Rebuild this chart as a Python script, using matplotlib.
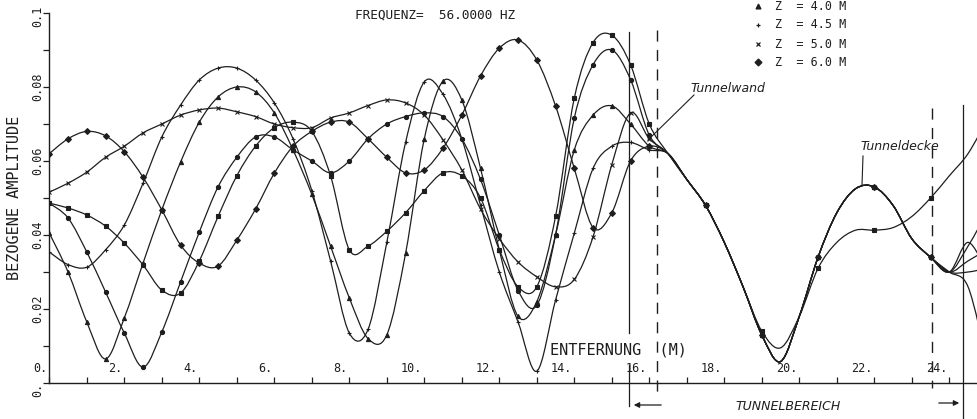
import matplotlib
matplotlib.use("Agg")
import matplotlib.pyplot as plt
import numpy as np
from matplotlib import transforms
from matplotlib.path import Path
from matplotlib.patches import PathPatch

# ---------------- data ----------------
x_pre = np.arange(0, 16.01, 0.5)          # 0 .. 16 m, 0.5 m steps
x_tun = [16.5, 17.0, 17.5, 18.0, 18.5, 19.0, 19.5, 20.0, 20.5, 21.0, 21.5,
         22.0, 22.5, 23.0, 23.5, 24.0]
x_end = [24.5, 25.0]

z_sq = [0.0486, 0.0473, 0.0454, 0.0424, 0.0378, 0.0319, 0.0251, 0.0243, 0.033, 0.045, 0.056,
        0.064, 0.069, 0.0705, 0.068, 0.056, 0.036, 0.037, 0.041, 0.046, 0.052, 0.0568,
        0.056, 0.050, 0.036, 0.026, 0.026, 0.045, 0.077, 0.092, 0.094, 0.086, 0.070]
z_ci = [0.0486, 0.0446, 0.0354, 0.0246, 0.0135, 0.0043, 0.0138, 0.0273, 0.0408, 0.053, 0.061,
        0.0665, 0.0665, 0.063, 0.060, 0.0568, 0.060, 0.066, 0.070, 0.072, 0.073, 0.072,
        0.066, 0.055, 0.040, 0.025, 0.021, 0.040, 0.0716, 0.086, 0.090, 0.082, 0.067]
z40 = [0.0405, 0.030, 0.0165, 0.0065, 0.0176, 0.0324, 0.0468, 0.0597, 0.0705, 0.0773, 0.080,
       0.0787, 0.073, 0.063, 0.051, 0.037, 0.023, 0.012, 0.013, 0.035, 0.066, 0.0816,
       0.0765, 0.058, 0.036, 0.018, 0.022, 0.040, 0.063, 0.0724, 0.0749, 0.070, 0.064]
z45 = [0.0354, 0.032, 0.0313, 0.036, 0.0427, 0.054, 0.0665, 0.0751, 0.0819, 0.0851, 0.0851,
       0.0819, 0.0757, 0.066, 0.052, 0.033, 0.0135, 0.0145, 0.038, 0.065, 0.0814, 0.078,
       0.066, 0.048, 0.030, 0.0165, 0.0032, 0.0224, 0.0405, 0.058, 0.064, 0.065, 0.063]
z50 = [0.0516, 0.054, 0.057, 0.061, 0.064, 0.0676, 0.070, 0.0724, 0.0738, 0.0743, 0.0733,
       0.072, 0.070, 0.069, 0.069, 0.0716, 0.073, 0.075, 0.0765, 0.0757, 0.0724, 0.0657,
       0.0576, 0.047, 0.039, 0.0327, 0.0287, 0.026, 0.028, 0.0395, 0.059, 0.073, 0.066]
z60 = [0.062, 0.066, 0.068, 0.0668, 0.0625, 0.0556, 0.0468, 0.0373, 0.0324, 0.0316, 0.0386,
       0.047, 0.0567, 0.064, 0.068, 0.0705, 0.0705, 0.066, 0.061, 0.0568, 0.0576, 0.0635,
       0.0724, 0.083, 0.0905, 0.0927, 0.0873, 0.0749, 0.058, 0.042, 0.046, 0.060, 0.064]

tun_upper = [0.062, 0.055, 0.048, 0.038, 0.026, 0.013, 0.0058, 0.018, 0.034, 0.046,
             0.0525, 0.053, 0.048, 0.039, 0.034, 0.030]
tun_lower = [0.062, 0.055, 0.048, 0.038, 0.026, 0.014, 0.0095, 0.018, 0.031, 0.038,
             0.0413, 0.0413, 0.042, 0.045, 0.050, 0.056]

end_sq = [0.062, 0.071]
end_ci = [0.037, 0.046]
end_40 = [0.038, 0.030]
end_45 = [0.030, 0.031]
end_50 = [0.026, 0.006]
end_60 = [0.033, 0.036]

series_values = [z_sq, z_ci, z40, z45, z50, z60]
series_tunnel = [tun_lower, tun_upper, tun_upper, tun_upper, tun_upper, tun_upper]
series_end = [end_sq, end_ci, end_40, end_45, end_50, end_60]
series_markers = ["s", "o", "^", "+", "x", "D"]

legend_labels = ["Z  = 4.0 M", "Z  = 4.5 M", "Z  = 5.0 M", "Z  = 6.0 M"]
legend_markers = ["^", "+", "x", "D"]

x_ticks_major = [0, 2, 4, 6, 8, 10, 12, 14, 16, 18, 20, 22, 24]
x_tick_labels = ["0.", "2.", "4.", "6.", "8.", "10.", "12.", "14.", "16.", "18.", "20.", "22.", "24."]
y_ticks = [0.0, 0.02, 0.04, 0.06, 0.08, 0.1]
y_tick_labels = ["0.", "0.02", "0.04", "0.06", "0.08", "0.1"]

# ---------------- figure ----------------
W, H = 977, 419
fig = plt.figure(figsize=(W / 100, H / 100), dpi=100)
x0_px, x_scale = 49.3, 37.5       # px of x=0, px per metre
y0_px, y_top_px = 383.0, 13.0
xmax = (W - x0_px) / x_scale
ax = fig.add_axes([x0_px / W, (H - y0_px) / H, (W - x0_px) / W, (y0_px - y_top_px) / H])
ax.set_xlim(0, xmax)
ax.set_ylim(0, 0.1)
ax.patch.set_alpha(0)
ink = "#1e1e1e"
mono = "DejaVu Sans Mono"
for s in ["top", "right"]:
    ax.spines[s].set_visible(False)
for s in ["left", "bottom"]:
    ax.spines[s].set_linewidth(1.0)
    ax.spines[s].set_color(ink)
ax.set_xticks(np.arange(0, 25, 1))
ax.set_yticks(np.arange(0, 0.1001, 0.01))
ax.tick_params(axis="x", direction="in", length=4, width=0.9, labelbottom=False, color=ink)
ax.tick_params(axis="y", direction="out", length=4, width=0.9, labelleft=False, color=ink)


def smooth_path(xs, ys):
    """Plotter-style smooth curve through the read points (Catmull-Rom as Bezier)."""
    p = np.column_stack([xs, ys])
    n = len(p)
    verts = [p[0]]
    codes = [Path.MOVETO]
    for i in range(n - 1):
        p0 = p[i - 1] if i > 0 else p[i]
        p1, p2 = p[i], p[i + 1]
        p3 = p[i + 2] if i + 2 < n else p[i + 1]
        c1 = p1 + (p2 - p0) / 6.0
        c2 = p2 - (p3 - p1) / 6.0
        verts += [c1, c2, p2]
        codes += [Path.CURVE4] * 3
    return Path(verts, codes)


for vals, tun, end, mk in zip(series_values, series_tunnel, series_end, series_markers):
    xx = np.concatenate([x_pre, x_tun, x_end])
    yy = np.concatenate([vals, tun, end])
    n_pre = len(x_pre)
    ax.add_patch(PathPatch(smooth_path(xx, yy), fill=False, edgecolor=ink, lw=0.9))
    mfc = ink if mk not in ("+", "x") else "none"
    ax.plot(xx[:n_pre], yy[:n_pre], ls="none", marker=mk, ms=3.0, mew=0.8,
            mfc=mfc, mec=ink, clip_on=True)
    ax.plot(xx[n_pre + 2::3], yy[n_pre + 2::3], ls="none", marker=mk, ms=3.0, mew=0.8,
            mfc=mfc, mec=ink, clip_on=True)

# tick labels
for xv, lab in zip(x_ticks_major, x_tick_labels):
    ax.text(xv - 0.05, 0.0022, lab, ha="right", va="bottom", fontsize=8.5,
            family=mono, color=ink)
for yv, lab in zip(y_ticks, y_tick_labels):
    off = transforms.offset_copy(ax.transData, fig=fig, x=-5, y=-14, units="dots")
    ax.text(0, yv, lab, rotation=90, rotation_mode="anchor", ha="left", va="bottom",
            fontsize=8.5, family=mono, color=ink, transform=off)

fig.text(15 / W, 1 - 198 / H, "BEZOGENE AMPLITUDE", rotation=90, ha="center", va="center",
         fontsize=11, family=mono, color=ink)
fig.text(355 / W, 1 - 15 / H, "FREQUENZ=  56.0000 HZ", ha="left", va="center",
         fontsize=9.2, family=mono, color=ink)
ax.text(13.35, 0.0090, "ENTFERNUNG  (M)", ha="left", va="center", fontsize=11,
        family=mono, color=ink)

# legend (visible part)
leg_rows_py = [6, 25, 44, 62]
for py, mk, lab in zip(leg_rows_py, legend_markers, legend_labels):
    yf = 1 - py / H
    fig.lines.append(plt.Line2D([758 / W], [yf], marker=mk, ms=3.5, color=ink,
                                mfc=ink, mew=0.9, transform=fig.transFigure, lw=0))
    fig.text(775 / W, yf, lab, ha="left", va="center", fontsize=8.5, family=mono, color=ink)

# tunnel boundary lines
def xd(px):
    return (px - x0_px) / x_scale
def yd(py):
    return (y0_px - py) / 3700.0

ax.plot([xd(629)] * 2, [yd(32), yd(333)], color=ink, lw=0.9, clip_on=False)
ax.plot([xd(629)] * 2, [yd(365), yd(406)], color=ink, lw=0.9, clip_on=False)
ax.plot([xd(657)] * 2, [yd(30), yd(392)], color=ink, lw=1.0, ls=(0, (8, 6)), clip_on=False)
ax.plot([xd(932)] * 2, [yd(108), yd(388)], color=ink, lw=1.0, ls=(0, (8, 6)), clip_on=False)
ax.plot([xd(963)] * 2, [yd(105), yd(419)], color=ink, lw=0.9, clip_on=False)
ax.annotate("", xy=(xd(631), yd(405)), xytext=(xd(664), yd(405)),
            arrowprops=dict(arrowstyle="-|>", color=ink, lw=0.9, mutation_scale=8),
            annotation_clip=False)
ax.annotate("", xy=(xd(962), yd(403)), xytext=(xd(936), yd(403)),
            arrowprops=dict(arrowstyle="-|>", color=ink, lw=0.9, mutation_scale=8),
            annotation_clip=False)
ax.text(xd(735), yd(406), "TUNNELBEREICH", ha="left", va="center", fontsize=9,
        style="italic", family="DejaVu Sans", color=ink)
ax.text(xd(690), yd(88), "Tunnelwand", ha="left", va="center", fontsize=9,
        style="italic", family="DejaVu Sans", color=ink)
ax.plot([xd(694), xd(648)], [yd(95), yd(140)], color=ink, lw=0.8)
ax.text(xd(860), yd(146), "Tunneldecke", ha="left", va="center", fontsize=9,
        style="italic", family="DejaVu Sans", color=ink)
ax.plot([xd(863), xd(862)], [yd(156), yd(185)], color=ink, lw=0.8)

fig.savefig("out.png", dpi=100)
